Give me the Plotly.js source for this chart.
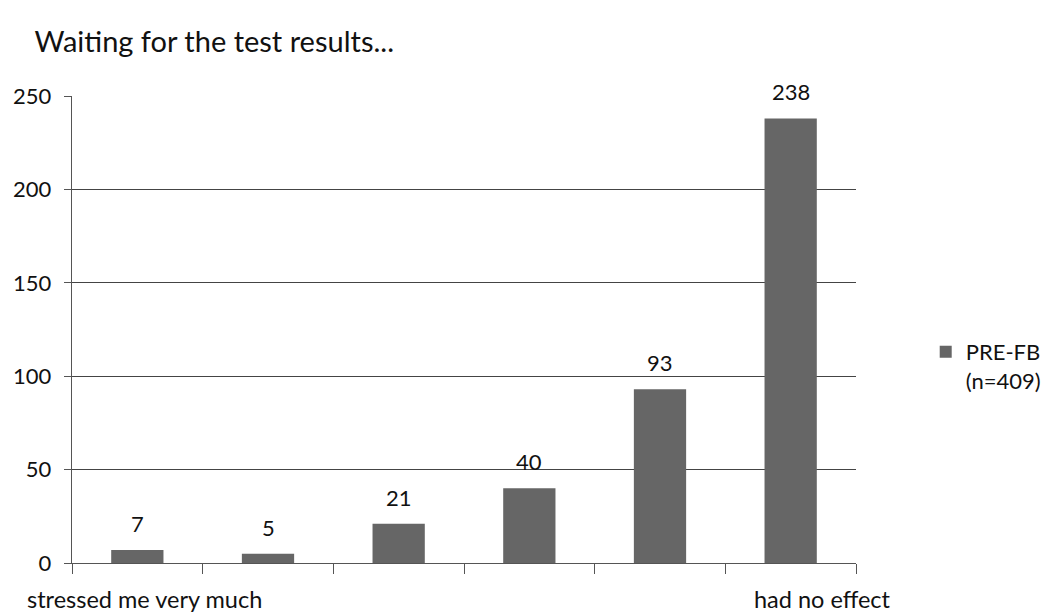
<!DOCTYPE html>
<html><head><meta charset="utf-8">
<script src="https://cdn.plot.ly/plotly-3.0.1.min.js"></script>
<style>html,body{margin:0;padding:0;background:#fff}</style>
</head><body>
<div id="chart" style="width:1046px;height:616px"></div>
<script>
const categories = ["c1", "c2", "c3", "c4", "c5", "c6"];
const values = [7, 5, 21, 40, 93, 238];
const endLabels = {"c1": "stressed me very much", "c6": "had no effect"};
const seriesName = "PRE-FB<br>(n=409)";
const titleText = "Waiting for the test results...";
const yTicks = [0, 50, 100, 150, 200, 250];

const font = "Lato, 'Open Sans', sans-serif";
const trace = {
  type: "bar",
  x: categories,
  y: values,
  name: seriesName,
  marker: {color: "#666666"},
  showlegend: true
};
const valueLabels = categories.map((c, i) => ({
  x: c, y: values[i], xref: "x", yref: "y",
  yanchor: "bottom", xanchor: "center", yshift: 11,
  text: String(values[i]), showarrow: false,
  font: {family: font, size: 22, color: "#111"}
}));
const catLabels = Object.keys(endLabels).map((k) => ({
  x: k, y: 0, xref: "x", yref: "paper",
  yanchor: "top", xanchor: "center", yshift: -20,
  xshift: k === "c6" ? 32 : 7,
  text: endLabels[k], showarrow: false,
  font: {family: font, size: 23.5, color: "#111"}
}));
const layout = {
  width: 1046, height: 616,
  margin: {l: 72, r: 190, t: 96, b: 53},
  paper_bgcolor: "#fff", plot_bgcolor: "#fff",
  title: {text: titleText, x: 0.033, xanchor: "left", y: 0.932, yanchor: "middle",
          font: {family: font, size: 29, color: "#111"}},
  bargap: 0.6,
  xaxis: {type: "category", range: [-0.5, 5.5], showticklabels: false, ticks: "outside", tickson: "boundaries",
          ticklen: 10, tickcolor: "#555", showline: true, linecolor: "#555", linewidth: 1.3,
          showgrid: false, fixedrange: true},
  yaxis: {range: [0, 250], tickvals: yTicks, ticks: "outside", ticklen: 7, tickcolor: "#555",
          showline: true, linecolor: "#555", linewidth: 1.3,
          showgrid: true, gridcolor: "#444", gridwidth: 1.2, zeroline: false,
          tickfont: {family: font, size: 22, color: "#111"}, ticklabelstandoff: 8},
  legend: {xref: "container", x: 0.885, xanchor: "left", yref: "container", y: 0.405, yanchor: "middle",
           valign: "top", font: {family: font, size: 22, color: "#111"}, itemwidth: 30},
  annotations: valueLabels.concat(catLabels)
};
Plotly.newPlot("chart", [trace], layout, {displayModeBar: false, staticPlot: true});
</script>
</body></html>
